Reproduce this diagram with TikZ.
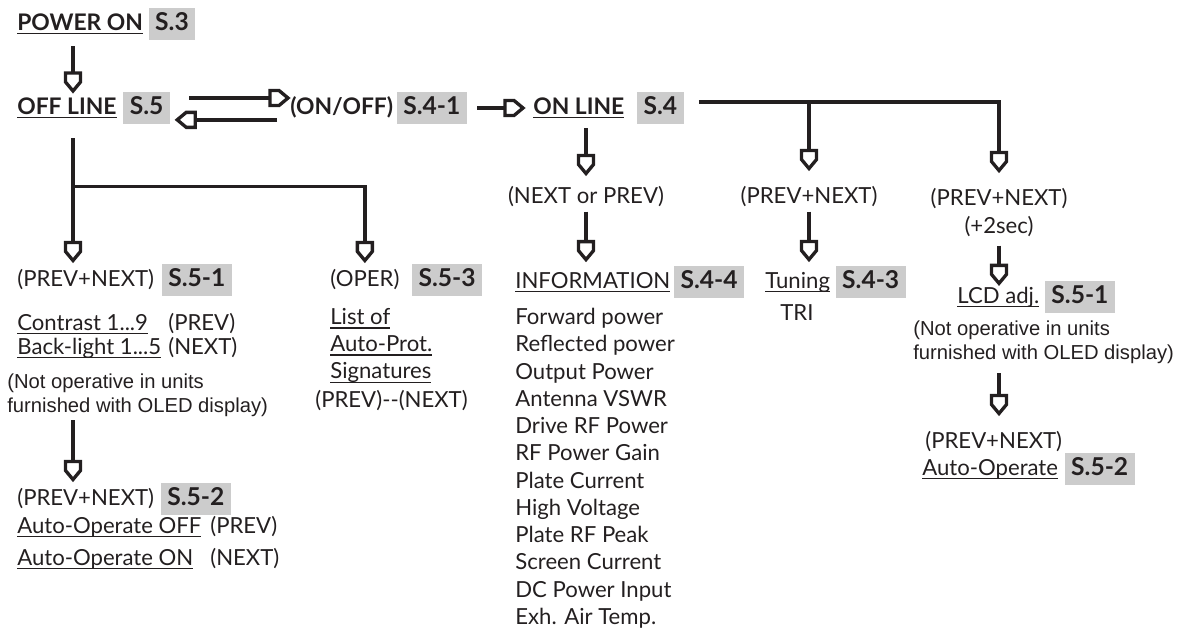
\documentclass[tikz,border=0pt]{standalone}
\usepackage{fontspec}
\setmainfont{Lato}
\newfontfamily\notefont{Liberation Sans}
\definecolor{ink}{RGB}{35,31,32}
\definecolor{boxgray}{RGB}{204,204,204}
\usetikzlibrary{positioning,arrows.meta,calc}
\newcommand\uln[1]{\leavevmode\setbox0\hbox{#1}\rlap{\rule[-2.3pt]{\wd0}{0.8pt}}\box0}

% open "shield" head used on every flow line
\pgfdeclarearrow{
  name = Shield,
  parameters = {\the\pgfarrowlength,\the\pgfarrowwidth},
  setup code = {
    \pgfarrowssettipend{\pgfarrowlength}
    \pgfarrowssetlineend{0pt}
    \pgfarrowssetbackend{0pt}
    \pgfarrowssavethe\pgfarrowlength
    \pgfarrowssavethe\pgfarrowwidth
  },
  drawing code = {
    \pgfsetdash{}{0pt}
    \pgfsetmiterjoin
    \pgfpathmoveto{\pgfqpoint{\pgfarrowlength}{0pt}}
    \pgfpathlineto{\pgfqpoint{.5\pgfarrowlength}{.5\pgfarrowwidth}}
    \pgfpathlineto{\pgfqpoint{0pt}{.5\pgfarrowwidth}}
    \pgfpathlineto{\pgfqpoint{0pt}{-.5\pgfarrowwidth}}
    \pgfpathlineto{\pgfqpoint{.5\pgfarrowlength}{-.5\pgfarrowwidth}}
    \pgfpathclose
    \pgfusepathqstroke
  },
  defaults = {length = 0.36cm, width = 0.3cm}
}

\begin{document}
\begin{tikzpicture}[
  x=0.02cm, y=-0.02cm,
  lbl/.style={inner sep=0pt, anchor=base west, text=ink, font=\fontsize{12.6}{15.5}\selectfont},
  head/.style={lbl, font=\fontsize{13}{15.5}\selectfont\bfseries},
  secbox/.style={fill=boxgray, text=ink, font=\fontsize{14}{16}\selectfont\bfseries, inner xsep=0.13cm, inner ysep=0.1cm, text height=0.34cm, text depth=0.1cm},
  note/.style={inner sep=0pt, anchor=north west, align=left, text=ink, font=\notefont\fontsize{11.5}{14.2}\selectfont},
  flow/.style={draw=ink, line width=1.9pt, -{Shield}},
  wire/.style={draw=ink, line width=1.9pt}
]
\useasboundingbox (0,0) rectangle (1182,630);
\coordinate (c1) at (73,0);

\node[head] (powon) at (17,30) {\uln{POWER ON}};
\node[secbox, base right=0.1cm of powon] (s3) {S.3};
\node[head] (offl) at (17,114) {\uln{OFF LINE}};
\node[secbox, base right=0.12cm of offl] (s5) {S.5};
\node[head] (onoff) at (290,114) {(ON/OFF)};
\node[secbox, base right=0.06cm of onoff] (s41) {S.4-1};
\node[head] (onl) at (533,114) {\uln{ON LINE}};
\node[secbox, base right=0.24cm of onl] (s4) {S.4};

% off line branch
\node[lbl] (pn1) at (17,286) {(PREV+NEXT)};
\node[secbox, base right=0.14cm of pn1] (s51) {S.5-1};
\node[lbl] (contr) at (17,330) {\uln{Contrast 1...9}};
\node[lbl] (cprev) at (168,330) {(PREV)};
\node[lbl] (backl) at (17,354) {\uln{Back-light 1...5}};
\node[lbl] (bnext) at (168,354) {(NEXT)};
\node[note] (note1) at (7,373) {(Not operative in units\\furnished with OLED display)};
\node[lbl] (pn2) at (17,505) {(PREV+NEXT)};
\node[secbox, base right=0.12cm of pn2] (s52) {S.5-2};
\node[lbl] (aoff) at (17,533) {\uln{Auto-Operate OFF}};
\node[lbl] (aprev) at (210,533) {(PREV)};
\node[lbl] (aon) at (17,565) {\uln{Auto-Operate ON}};
\node[lbl] (anext) at (210,565) {(NEXT)};

\node[lbl] (oper) at (330,286) {(OPER)};
\node[secbox, base right=0.24cm of oper] (s53) {S.5-3};
\node[lbl, align=left, anchor=north west] (sigs) at (330,308) {\uln{List of}\\\uln{Auto-Prot.}\\\uln{Signatures}};
\node[lbl] (pnx) at (315,407) {(PREV)-{}-(NEXT)};

% on line branch
\node[lbl, anchor=base] (nop) at (586,203) {(NEXT or PREV)};
\node[lbl] (info) at (515,288) {\uln{INFORMATION}};
\node[secbox, base right=0.06cm of info] (s44) {S.4-4};
\node[lbl, align=left, anchor=north west] (vals) at (515,308) {Forward power\\Reflected power\\Output Power\\Antenna VSWR\\Drive RF Power\\RF Power Gain\\Plate Current\\High Voltage\\Plate RF Peak\\Screen Current\\DC Power Input\\Exh. Air Temp.};

\node[lbl, anchor=base] (pn3) at (809,203) {(PREV+NEXT)};
\node[lbl] (tun) at (765,288) {\uln{Tuning}};
\node[secbox, base right=0.1cm of tun] (s43) {S.4-3};
\node[lbl] (tri) at (780,320) {TRI};

\node[lbl, anchor=base] (pn4) at (999,205) {(PREV+NEXT)};
\node[lbl, anchor=base] (twos) at (999,233) {(+2sec)};
\node[lbl] (lcd) at (957,303) {\uln{LCD adj.}};
\node[secbox, base right=0.1cm of lcd] (s51b) {S.5-1};
\node[note] (note2) at (913,320) {(Not operative in units\\furnished with OLED display)};
\node[lbl] (pn5) at (925,448) {(PREV+NEXT)};
\node[lbl] (aop) at (922,475) {\uln{Auto-Operate}};
\node[secbox, base right=0.12cm of aop] (s52b) {S.5-2};

% connectors
\draw[flow] ($(powon.south -| c1)+(0,12)$) -- ($(offl.north -| c1)+(0,-6)$);
\draw[flow, shorten >=0.04cm] ($(s5.east)+(19,-10)$) coordinate (up) -- (up -| onoff.west);
\draw[flow, shorten >=0.14cm] ($(onoff.west)+(-13,13)$) coordinate (lo) -- (lo -| s5.east);
\draw[flow, shorten >=0.2cm] ($(s41.east)+(10,0)$) coordinate (mid) -- (mid -| onl.west);

\draw[flow] ($(s4.east)+(15,-6)$) coordinate (bus) -| ($(pn4.north)+(0,-17)$);
\draw[flow] (bus -| pn3.north) -- ($(pn3.north)+(0,-17)$);
\draw[flow] ($(onl.south -| nop.north)+(0,10)$) -- ($(nop.north)+(0,-12)$);
\draw[flow] ($(nop.south)+(0,5)$) -- ($(nop.south |- info.north)+(0,-12)$);
\draw[flow] ($(pn3.south)+(0,5)$) -- ($(pn3.south |- tun.north)+(0,-12)$);
\draw[flow] ($(twos.south)+(0,9)$) -- ($(twos.south |- lcd.north)+(0,-3)$);
\draw[flow] ($(note2.south -| twos)+(0,9)$) -- ($(pn5.north -| twos)+(0,-17)$);

\draw[flow] ($(offl.south -| c1)+(0,20)$) -- ($(pn1.north -| c1)+(0,-8)$);
\draw[flow] ($(offl.south -| c1)+(0,68)$) -| ($(oper.north)+(0,-8)$);
\draw[flow] ($(note1.south -| c1)+(0,3)$) -- ($(pn2.north -| c1)+(0,-8)$);
\end{tikzpicture}
\end{document}
